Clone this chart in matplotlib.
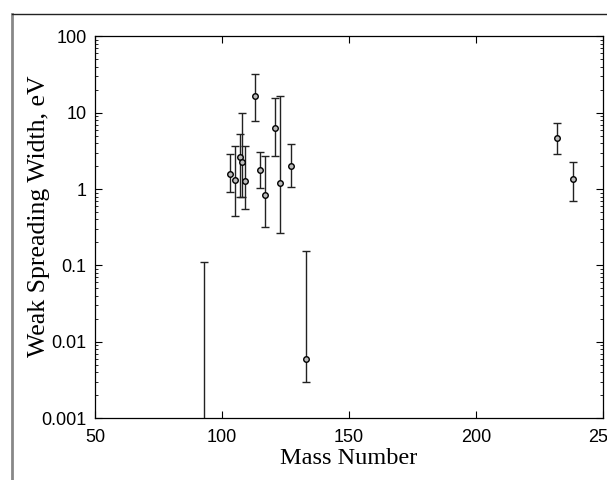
import matplotlib
matplotlib.use('Agg')
import matplotlib.pyplot as plt
from matplotlib.lines import Line2D
import numpy as np

# mass numbers, spreading widths (eV) and error bar ends
mass = [93, 103, 105, 107, 108, 109, 113, 115, 117, 121, 123, 127, 133, 232, 238]
width = [0.0005, 1.6, 1.3, 2.6, 2.3, 1.28, 16.4, 1.8, 0.85, 6.4, 1.2, 2.0, 0.006, 4.7, 1.35]
upper = [0.11, 2.9, 3.7, 5.2, 9.9, 3.7, 32.5, 3.1, 2.7, 15.7, 16.6, 3.9, 0.155, 7.3, 2.26]
lower = [0.0005, 0.92, 0.45, 0.8, 0.8, 0.55, 7.8, 1.05, 0.32, 2.7, 0.27, 1.07, 0.003, 2.85, 0.7]

xticks = [50, 100, 150, 200, 250]
yticks = [0.001, 0.01, 0.1, 1, 10, 100]
ytick_labels = ['0.001', '0.01', '0.1', '1', '10', '100']

w = np.array(width)
yerr = [w - np.array(lower), np.array(upper) - w]

fig = plt.figure(figsize=(6.07, 4.8), dpi=100)
ax = fig.add_axes([0.1565, 0.129, 0.8369, 0.795])

ax.errorbar(mass, width, yerr=yerr, fmt='o', color='black', ecolor='#222222',
            elinewidth=1.0, capsize=3, capthick=1.0, markersize=4,
            markerfacecolor='#bbbbbb', markeredgecolor='black', markeredgewidth=1.0)

ax.set_yscale('log')
ax.set_xlim(50, 250)
ax.set_ylim(0.001, 100)
ax.set_xticks(xticks)
ax.set_xticklabels([str(t) for t in xticks], fontsize=13, family='Liberation Sans')
ax.set_yticks(yticks)
ax.set_yticklabels(ytick_labels, fontsize=13, family='Liberation Sans')
ax.tick_params(which='both', direction='in', top=True, right=True)
ax.tick_params(which='major', length=5, width=0.8, pad=6)
ax.tick_params(axis='x', which='major', pad=8)
ax.tick_params(which='minor', length=2.5, width=0.6)
for s in ax.spines.values():
    s.set_linewidth(0.9)

ax.set_xlabel('Mass Number', fontsize=17.5, family='Liberation Serif')
ax.set_ylabel('Weak Spreading Width, eV', fontsize=18.5, family='Liberation Serif')
ax.xaxis.set_label_coords(0.5, -0.078)
ax.yaxis.set_label_coords(-0.088, 0.53)

# outer frame of the figure (cut off on the right and bottom)
fig.add_artist(Line2D([0.0198, 0.0198], [0.0, 0.971], transform=fig.transFigure,
                      color='#888888', linewidth=2))
fig.add_artist(Line2D([0.0198, 1.0], [0.971, 0.971], transform=fig.transFigure,
                      color='#222222', linewidth=1))

fig.savefig('out.png', dpi=100)
